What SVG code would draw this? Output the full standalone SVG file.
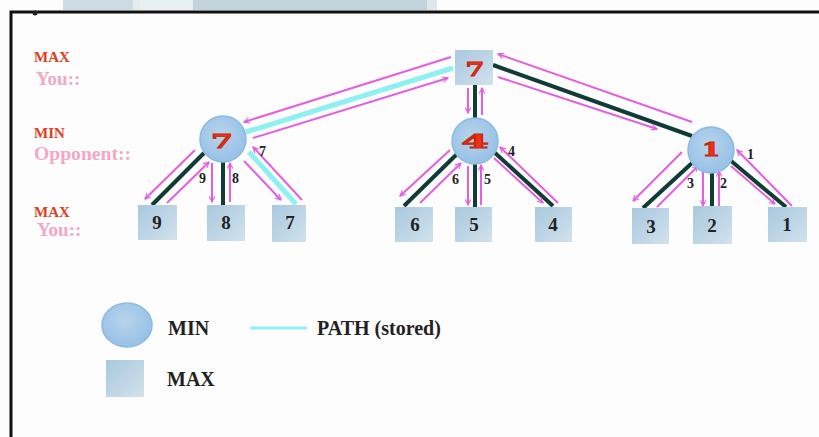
<svg xmlns="http://www.w3.org/2000/svg" width="819" height="437" viewBox="0 0 819 437">
  <defs>
    <linearGradient id="sq" x1="0" y1="0" x2="1" y2="1">
      <stop offset="0" stop-color="#a9c9df"/>
      <stop offset="0.55" stop-color="#bfd6e6"/>
      <stop offset="1" stop-color="#d2e2ec"/>
    </linearGradient>
    <radialGradient id="ci" cx="0.45" cy="0.4" r="0.65">
      <stop offset="0" stop-color="#b8d4ec"/>
      <stop offset="1" stop-color="#94bfe6"/>
    </radialGradient>
    <marker id="ah" viewBox="0 0 10 10" refX="9" refY="5" markerWidth="7" markerHeight="7" orient="auto-start-reverse" markerUnits="userSpaceOnUse">
      <path d="M1,1 L9,5 L1,9" fill="none" stroke="#e35ee0" stroke-width="1.6"/>
    </marker>
  </defs>
  <style>
    .sq { fill: url(#sq); }
    .ci { fill: url(#ci); stroke: #8cbbe2; stroke-width: 1.5; }
    .val { font-family: "DejaVu Serif", "Liberation Serif", serif; font-weight: bold; font-size: 18px; fill: #ef3214; stroke: #c8260e; stroke-width: 0.9; text-anchor: middle; }
    .leaf { font-family: "Liberation Serif", serif; font-weight: bold; font-size: 19px; fill: #222; text-anchor: middle; }
    .num { font-family: "Liberation Serif", serif; font-weight: bold; font-size: 14px; fill: #222; }
    .lvl { font-family: "Liberation Serif", serif; font-weight: bold; font-size: 15px; fill: #e0401c; }
    .who { font-family: "Liberation Serif", serif; font-weight: bold; font-size: 19px; fill: #f2a8c6; }
    .leg { font-family: "Liberation Serif", serif; font-weight: bold; font-size: 20px; fill: #222; }
    .dark { stroke: #103c35; stroke-width: 4; fill: none; }
    .path { stroke: #8ef0f0; stroke-width: 5; fill: none; }
    .pk { stroke: #e35ee0; stroke-width: 2; fill: none; marker-end: url(#ah); }
  </style>

  <rect x="0" y="0" width="819" height="437" fill="#fdfdfd"/>

  <!-- strip along the top edge -->
  <rect x="63" y="0" width="70" height="10" fill="#cddbe3"/>
  <rect x="133" y="0" width="7" height="10" fill="#e4ecf0"/>
  <rect x="140" y="0" width="53" height="10" fill="#e8eff2"/>
  <rect x="193" y="0" width="234" height="10" fill="#c3d3db"/>
  <rect x="427" y="0" width="10" height="10" fill="#dde8ec"/>

  <!-- frame -->
  <path d="M11,437 V12 H819" fill="none" stroke="#111" stroke-width="3"/>
  <circle cx="35" cy="13" r="2.5" fill="#222"/>

  <!-- level labels -->
  <text class="lvl" x="34" y="62">MAX</text>
  <text class="who" x="36" y="85">You::</text>
  <text class="lvl" x="34" y="138">MIN</text>
  <text class="who" x="34" y="160" font-size="16" textLength="97" lengthAdjust="spacingAndGlyphs">Opponent::</text>
  <text class="lvl" x="34" y="217">MAX</text>
  <text class="who" x="37" y="236">You::</text>

  <!-- connectors -->
  <g id="connectors">
    <!-- root to left MIN -->
    <line class="path" x1="453" y1="68" x2="246" y2="132"/>
    <line class="pk" x1="451" y1="57" x2="244" y2="122"/>
    <line class="pk" x1="253" y1="138" x2="448" y2="78"/>
    <!-- root to middle MIN -->
    <line class="dark" x1="475" y1="85" x2="475" y2="119"/>
    <line class="pk" x1="468" y1="88" x2="468" y2="113"/>
    <line class="pk" x1="482" y1="115" x2="482" y2="88"/>
    <!-- root to right MIN -->
    <line class="dark" x1="493" y1="65" x2="692" y2="136"/>
    <line class="pk" x1="692" y1="122" x2="498" y2="54"/>
    <line class="pk" x1="498" y1="77" x2="657" y2="129"/>

    <!-- left MIN to leaves -->
    <line class="dark" x1="204" y1="153" x2="152" y2="205"/>
    <line class="pk" x1="195" y1="150" x2="145" y2="199"/>
    <line class="pk" x1="167" y1="203" x2="209" y2="162"/>
    <line class="dark" x1="223" y1="160" x2="223" y2="206"/>
    <line class="pk" x1="212" y1="163" x2="212" y2="202"/>
    <line class="pk" x1="230" y1="202" x2="230" y2="163"/>
    <line class="path" x1="249" y1="152" x2="296" y2="204"/>
    <line class="pk" x1="244" y1="161" x2="281" y2="200"/>
    <line class="pk" x1="302" y1="200" x2="253" y2="147"/>

    <!-- middle MIN to leaves -->
    <line class="dark" x1="458" y1="153" x2="404" y2="206"/>
    <line class="pk" x1="450" y1="150" x2="400" y2="196"/>
    <line class="pk" x1="420" y1="203" x2="461" y2="163"/>
    <line class="dark" x1="475" y1="164" x2="475" y2="207"/>
    <line class="pk" x1="468" y1="166" x2="468" y2="205"/>
    <line class="pk" x1="481" y1="205" x2="481" y2="165"/>
    <line class="dark" x1="494" y1="152" x2="553" y2="206"/>
    <line class="pk" x1="494" y1="158" x2="543" y2="203"/>
    <line class="pk" x1="558" y1="203" x2="500" y2="147"/>

    <!-- right MIN to leaves -->
    <line class="dark" x1="692" y1="163" x2="643" y2="208"/>
    <line class="pk" x1="682" y1="152" x2="633" y2="201"/>
    <line class="pk" x1="657" y1="207" x2="698" y2="166"/>
    <line class="dark" x1="712" y1="172" x2="712" y2="208"/>
    <line class="pk" x1="703" y1="172" x2="703" y2="206"/>
    <line class="pk" x1="719" y1="206" x2="719" y2="171"/>
    <line class="dark" x1="730" y1="160" x2="786" y2="207"/>
    <line class="pk" x1="731" y1="166" x2="775" y2="204"/>
    <line class="pk" x1="792" y1="206" x2="737" y2="150"/>
  </g>

  <!-- edge numbers -->
  <text class="num" x="199" y="183">9</text>
  <text class="num" x="232" y="183">8</text>
  <text class="num" x="259" y="156">7</text>
  <text class="num" x="452" y="184">6</text>
  <text class="num" x="484" y="184">5</text>
  <text class="num" x="508" y="156">4</text>
  <text class="num" x="687" y="188">3</text>
  <text class="num" x="720" y="188">2</text>
  <text class="num" x="747" y="159">1</text>

  <!-- MAX root -->
  <g id="root">
    <rect class="sq" x="455" y="50" width="38" height="35"/>
    <text class="val" transform="translate(475,76) scale(1.5,1)" font-size="24">7</text>
  </g>

  <!-- MIN nodes -->
  <g id="minL">
    <circle class="ci" cx="223" cy="139" r="23"/>
    <text class="val" transform="translate(222,148) scale(1.75,1)" font-size="19">7</text>
  </g>
  <g id="minM">
    <circle class="ci" cx="475" cy="141" r="23"/>
    <text class="val" transform="translate(475,148) scale(2.2,1)" font-size="20">4</text>
  </g>
  <g id="minR">
    <circle class="ci" cx="711" cy="150" r="23"/>
    <text class="val" transform="translate(711,156) scale(1.45,1)" font-size="19">1</text>
  </g>

  <!-- leaves -->
  <g id="leaf9"><rect class="sq" x="138" y="205" width="39" height="35"/><text class="leaf" x="157" y="229">9</text></g>
  <g id="leaf8"><rect class="sq" x="207" y="205" width="38" height="36"/><text class="leaf" x="226" y="229">8</text></g>
  <g id="leaf7"><rect class="sq" x="272" y="205" width="34" height="37"/><text class="leaf" x="290" y="229">7</text></g>
  <g id="leaf6"><rect class="sq" x="395" y="207" width="38" height="35"/><text class="leaf" x="415" y="231">6</text></g>
  <g id="leaf5"><rect class="sq" x="455" y="207" width="37" height="35"/><text class="leaf" x="474" y="231">5</text></g>
  <g id="leaf4"><rect class="sq" x="535" y="207" width="37" height="35"/><text class="leaf" x="553" y="231">4</text></g>
  <g id="leaf3"><rect class="sq" x="632" y="208" width="37" height="36"/><text class="leaf" x="651" y="233">3</text></g>
  <g id="leaf2"><rect class="sq" x="693" y="206" width="39" height="38"/><text class="leaf" x="712" y="232">2</text></g>
  <g id="leaf1"><rect class="sq" x="768" y="207" width="39" height="35"/><text class="leaf" x="787" y="231">1</text></g>

  <!-- legend -->
  <g id="legend">
    <ellipse class="ci" cx="127" cy="325" rx="25" ry="22"/>
    <text class="leg" x="168" y="335">MIN</text>
    <line x1="250" y1="328" x2="307" y2="328" stroke="#8ef0f0" stroke-width="3"/>
    <text class="leg" x="317" y="335">PATH (stored)</text>
    <rect class="sq" x="106" y="360" width="38" height="37"/>
    <text class="leg" x="167" y="386">MAX</text>
  </g>
</svg>
